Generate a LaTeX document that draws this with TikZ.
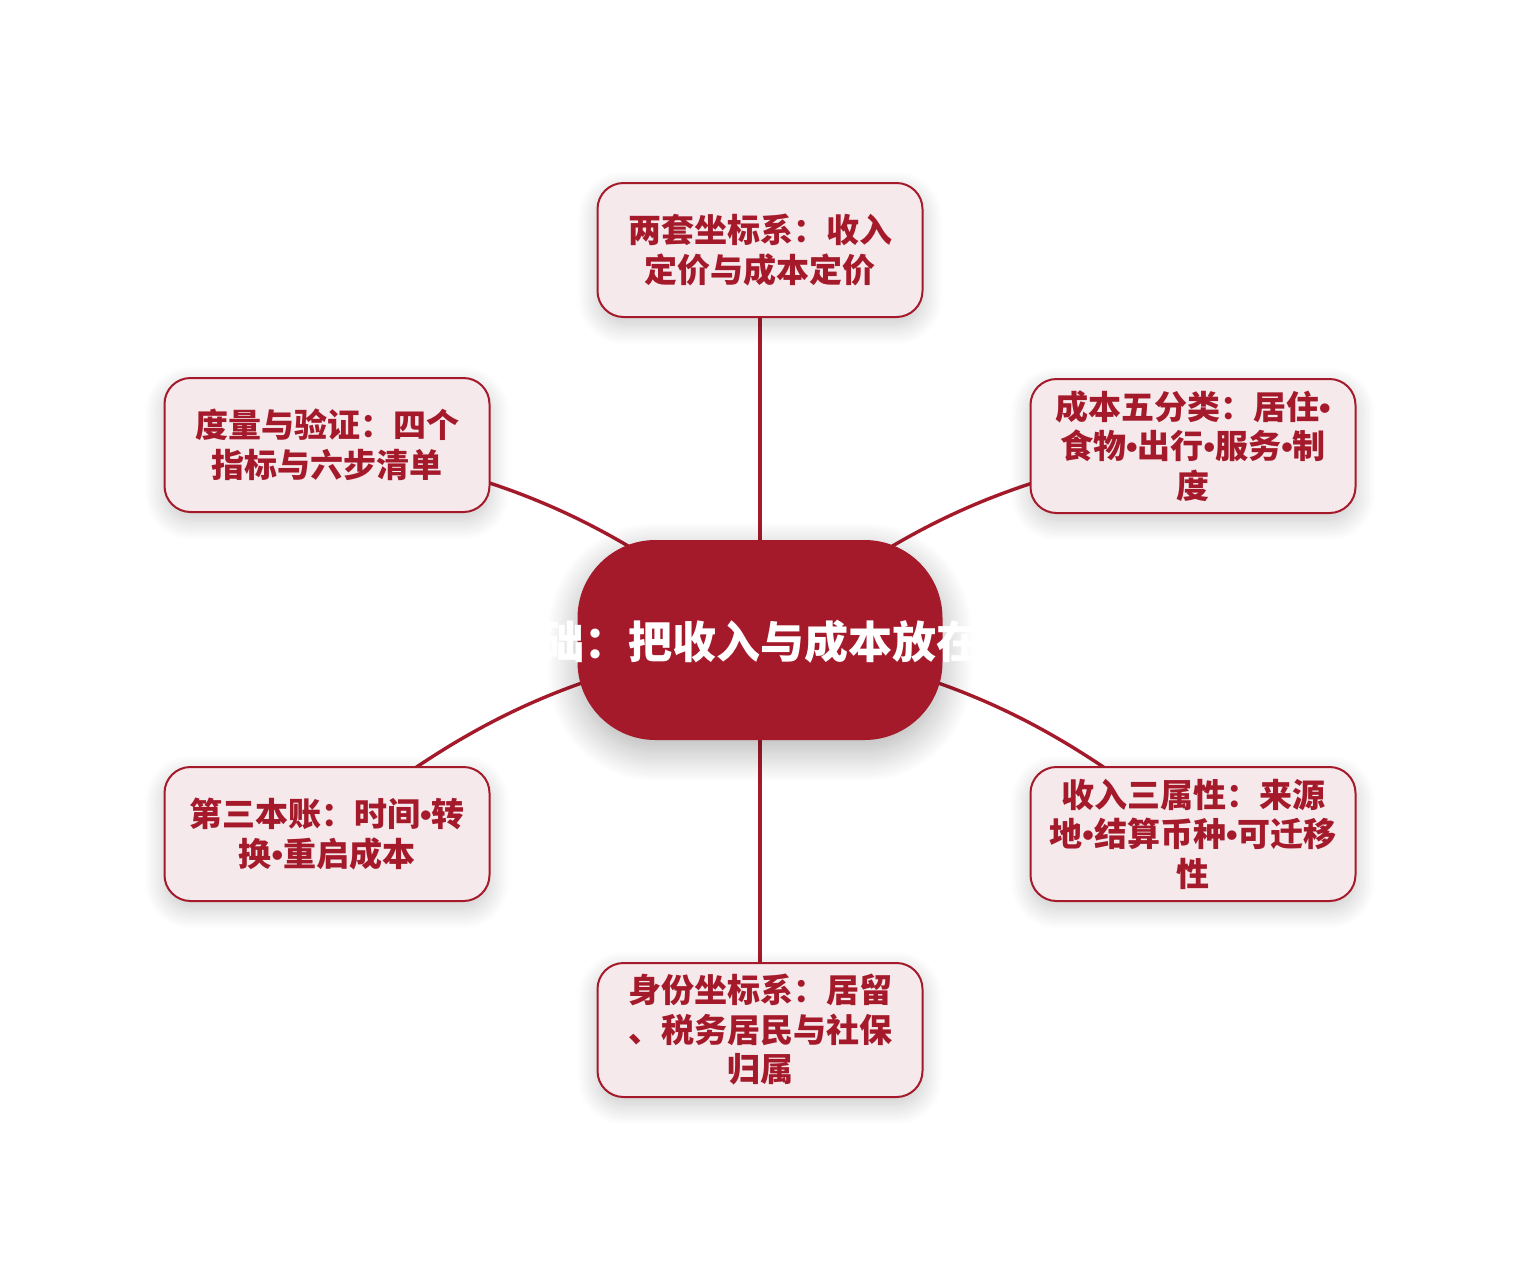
\documentclass[tikz,border=0pt]{standalone}
\usepackage{fontspec}
\newfontfamily\cjk{Noto Sans CJK SC}
\newfontfamily\latinb{Liberation Sans}
\newcommand\bul{{\latinb\bfseries •}}
\usetikzlibrary{shadows.blur}
\definecolor{deepred}{HTML}{A51A2B}
\definecolor{boxfill}{HTML}{F5E9EC}
\definecolor{bgtop}{HTML}{FEFEFE}
\definecolor{bgbot}{HTML}{F7F5F1}
\pgfdeclarelayer{bglayer}
\pgfdeclarelayer{edgelayer}
\pgfsetlayers{bglayer,edgelayer,main}
\tikzset{
  topic/.style={draw=deepred, line width=2pt, fill=boxfill, rounded corners=26pt,
    minimum width=325pt, minimum height=134pt, align=center, inner sep=0pt,
    text=deepred, font=\cjk\bfseries\fontsize{33}{39.5}\selectfont,
    blur shadow={shadow xshift=0pt, shadow yshift=-8pt, shadow blur radius=20pt, shadow opacity=22, shadow blur steps=16}},
  hubshape/.style={fill=deepred, rounded corners=78pt, minimum width=365pt, minimum height=200pt, inner sep=0pt,
    blur shadow={shadow xshift=0pt, shadow yshift=-12pt, shadow blur radius=30pt, shadow opacity=30, shadow blur steps=20}},
  edge/.style={draw=deepred, line width=3.4pt},
  hubtext/.style={text=white, font=\cjk\bfseries\fontsize{44}{50}\selectfont, inner sep=0pt}
}
\begin{document}
\begin{tikzpicture}[x=1pt,y=-1pt]
\useasboundingbox (0,0) rectangle (1520,1280);
\begin{pgfonlayer}{bglayer}
  \shade[top color=bgtop, bottom color=bgbot] (0,0) rectangle (1520,1280);
\end{pgfonlayer}
% dummy shadowed node outside the page (the first blur shadow is rendered wrongly)
\node[blur shadow, minimum size=5pt] (dummy) at (-400,-400) {};
% hub
\node[hubshape] (hub) at (760,640) {};
\node[hubtext] (c) at (760,642) {地理套利基础：把收入与成本放在不同坐标系};
% topics
\node[topic] (t)  at (760,250)  {两套坐标系：收入\\定价与成本定价};
\node[topic] (ur) at (1193,446) {成本五分类：居住\bul\\食物\bul 出行\bul 服务\bul 制\\度};
\node[topic] (ul) at (327,445)  {度量与验证：四个\\指标与六步清单};
\node[topic] (ll) at (327,834)  {第三本账：时间\bul 转\\换\bul 重启成本};
\node[topic] (lr) at (1193,834) {收入三属性：来源\\地\bul 结算币种\bul 可迁移\\性};
\node[topic] (b)  at (760,1030) {身份坐标系：居留\\、税务居民与社保\\归属};
\begin{pgfonlayer}{edgelayer}
  \draw[edge] (hub.center) -- (t.center);
  \draw[edge] (hub.center) -- (b.center);
  \draw[edge] (hub.center) to[bend left=15] (ur.center);
  \draw[edge] (hub.center) to[bend right=15] (ul.center);
  \draw[edge] (hub.center) to[bend right=15] (ll.center);
  \draw[edge] (hub.center) to[bend left=15] (lr.center);
\end{pgfonlayer}
\end{tikzpicture}
\end{document}
